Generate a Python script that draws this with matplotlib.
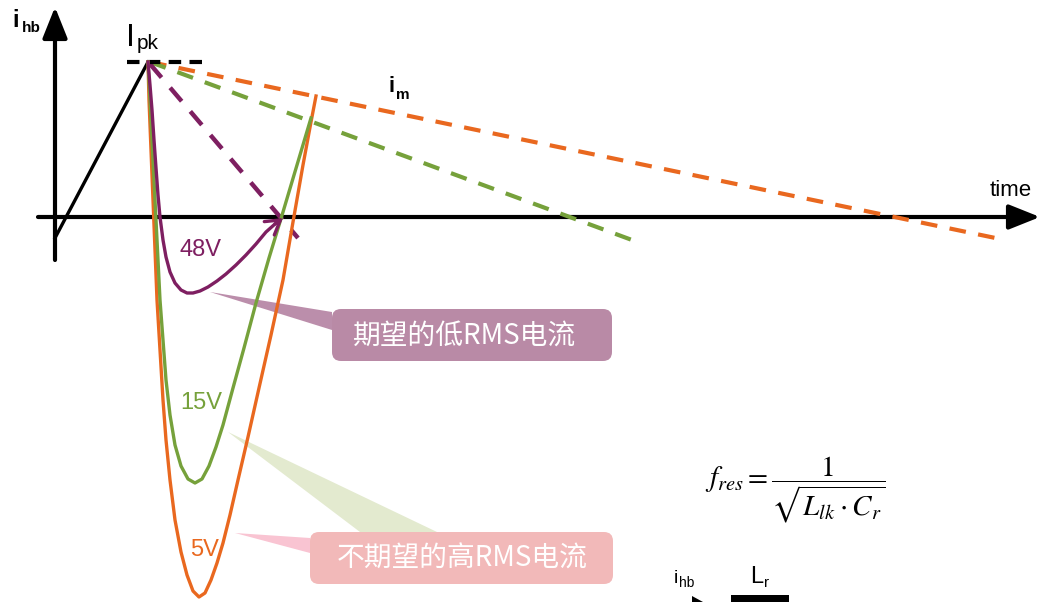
import matplotlib
matplotlib.use("Agg")
import matplotlib.pyplot as plt
from matplotlib.patches import FancyBboxPatch, Polygon

plt.rcParams['font.family'] = ['Liberation Sans', 'Noto Sans CJK SC', 'DejaVu Sans']
plt.rcParams['mathtext.fontset'] = 'stix'

# colours
PURPLE = '#7e1f61'
GREEN = '#76a13b'
ORANGE = '#e9681f'

# waveform points (pixel coords, y grows downward)
ramp_t = [55, 148]
ramp_i = [238, 62]

v48_t = [148, 150, 152, 154, 156, 158, 160, 163, 166, 170, 175, 181, 187, 193, 200, 208,
         217, 226, 236, 246, 256, 266, 275, 283]
v48_i = [62, 85, 110, 140, 168, 195, 217, 240, 257, 272, 283, 290, 293, 293, 291, 287,
         281, 274, 265, 255, 244, 232, 224, 218]

v15_t = [148, 150, 152, 154, 156, 158, 160, 163, 166, 170, 175, 181, 188, 195, 202, 209,
         216, 223, 233, 244, 256, 269, 283, 297, 311]
v15_i = [62, 100, 140, 180, 220, 260, 300, 340, 380, 415, 445, 466, 479, 483, 479, 466,
         447, 425, 388, 348, 303, 258, 212, 165, 118]

v5_t = [148, 149, 151, 153, 155, 157, 160, 163, 166, 170, 175, 181, 187, 193, 199, 205,
        211, 217, 223, 230, 238, 248, 259, 271, 283, 293, 303, 311, 316]
v5_i = [62, 100, 150, 200, 250, 300, 350, 400, 440, 480, 520, 552, 575, 591, 597, 593,
        580, 563, 543, 515, 480, 437, 388, 335, 280, 222, 165, 122, 96]

# magnetising current (dashed) end points
im48_t, im48_i = [150, 298], [64, 238]
im15_t, im15_i = [150, 632], [62, 240]
im5_t, im5_i = [150, 1005], [62, 240]

fig = plt.figure(figsize=(10.43, 6.02), dpi=100)
ax = fig.add_axes([0, 0, 1, 1])
ax.set_xlim(0, 1043)
ax.set_ylim(602, 0)
ax.axis('off')

# axes with arrows
ax.annotate('', xy=(55, 7), xytext=(55, 260),
            arrowprops=dict(arrowstyle='-|>,head_length=0.95,head_width=0.38',
                            lw=3, color='black', mutation_scale=20, shrinkA=0, shrinkB=0))
ax.annotate('', xy=(1040, 217), xytext=(38, 217),
            arrowprops=dict(arrowstyle='-|>,head_length=0.95,head_width=0.38',
                            lw=3, color='black', mutation_scale=20, shrinkA=0, shrinkB=0))

# callout wedges (behind curves)
ax.add_patch(Polygon([[210, 292], [332, 312], [332, 330]], closed=True,
                     facecolor='#b07a9c', edgecolor='none', alpha=0.85, zorder=1))
ax.add_patch(Polygon([[228, 432], [360, 532], [437, 532]], closed=True,
                     facecolor='#e3eacf', edgecolor='none', zorder=1))
ax.add_patch(Polygon([[235, 533], [310, 538], [310, 553]], closed=True,
                     facecolor='#f9c4d2', edgecolor='none', zorder=1))

# callout boxes
ax.add_patch(FancyBboxPatch((332, 309), 280, 52, boxstyle='round,pad=0,rounding_size=9',
                            facecolor='#b98aa6', edgecolor='none', zorder=1))
ax.add_patch(FancyBboxPatch((310, 532), 303, 52, boxstyle='round,pad=0,rounding_size=9',
                            facecolor='#f2b9b9', edgecolor='none', zorder=1))
ax.text(464, 336, '期望的低RMS电流', color='white', fontsize=20, ha='center', va='center',
        family=['Noto Sans CJK SC'], zorder=2)
ax.text(462, 559, '不期望的高RMS电流', color='white', fontsize=20, ha='center', va='center',
        family=['Noto Sans CJK SC'], zorder=2)

# dashed magnetising currents
ax.plot(im5_t, im5_i, color=ORANGE, lw=3, dashes=(4, 3), zorder=3)
ax.plot(im15_t, im15_i, color=GREEN, lw=3, dashes=(4, 3), zorder=3)
ax.plot(im48_t, im48_i, color=PURPLE, lw=3.2, dashes=(4, 3), zorder=3)

# peak marker
ax.plot([127, 202], [62, 62], color='black', lw=3, dashes=(3, 2), zorder=3)
ax.plot(ramp_t, ramp_i, color='black', lw=2.4, zorder=4)

# resonant currents
ax.plot(v5_t, v5_i, color=ORANGE, lw=2.4, zorder=4, solid_joinstyle='round')
ax.plot(v15_t, v15_i, color=GREEN, lw=2.4, zorder=4, solid_joinstyle='round')
ax.plot(v48_t[:-1], v48_i[:-1], color=PURPLE, lw=2.4, zorder=5, solid_joinstyle='round')
ax.annotate('', xy=(v48_t[-1], v48_i[-1]), xytext=(v48_t[-2], v48_i[-2]),
            arrowprops=dict(arrowstyle='->,head_length=0.5,head_width=0.3', lw=2.4,
                            color=PURPLE, mutation_scale=20, shrinkA=0, shrinkB=0), zorder=5)

# labels
ax.text(12, 27, 'i', fontsize=17, fontweight='bold', ha='left', va='baseline')
ax.text(22, 32, 'hb', fontsize=11, fontweight='bold', ha='left', va='baseline')
ax.text(126, 46, 'I', fontsize=23, ha='left', va='baseline')
ax.text(137, 49, 'pk', fontsize=15, ha='left', va='baseline')
ax.text(388, 92, 'i', fontsize=16, fontweight='bold', ha='left', va='baseline')
ax.text(396, 99, 'm', fontsize=11, fontweight='bold', ha='left', va='baseline')
ax.text(990, 196, 'time', fontsize=16, ha='left', va='baseline')

ax.text(201, 250, '48V', color=PURPLE, fontsize=17, ha='center', va='center')
ax.text(201, 403, '15V', color=GREEN, fontsize=17, ha='center', va='center')
ax.text(205, 550, '5V', color=ORANGE, fontsize=17, ha='center', va='center')

ax.text(795, 490, r'$f_{res}=\dfrac{1}{\sqrt{L_{lk}\cdot C_r}}$', fontsize=21,
        ha='center', va='center')

# small circuit fragment at the bottom
ax.text(674, 583, 'i', fontsize=14, ha='left', va='baseline')
ax.text(679, 587, 'hb', fontsize=10, ha='left', va='baseline')
ax.text(750, 583, 'L', fontsize=17, ha='left', va='baseline')
ax.text(764, 587, 'r', fontsize=11, ha='left', va='baseline')
ax.add_patch(plt.Rectangle((731, 595), 58, 10, facecolor='black', edgecolor='none'))
ax.add_patch(Polygon([[692, 596], [703, 602], [692, 602]], closed=True,
                     facecolor='black', edgecolor='none'))

fig.savefig('out.png', dpi=100)
